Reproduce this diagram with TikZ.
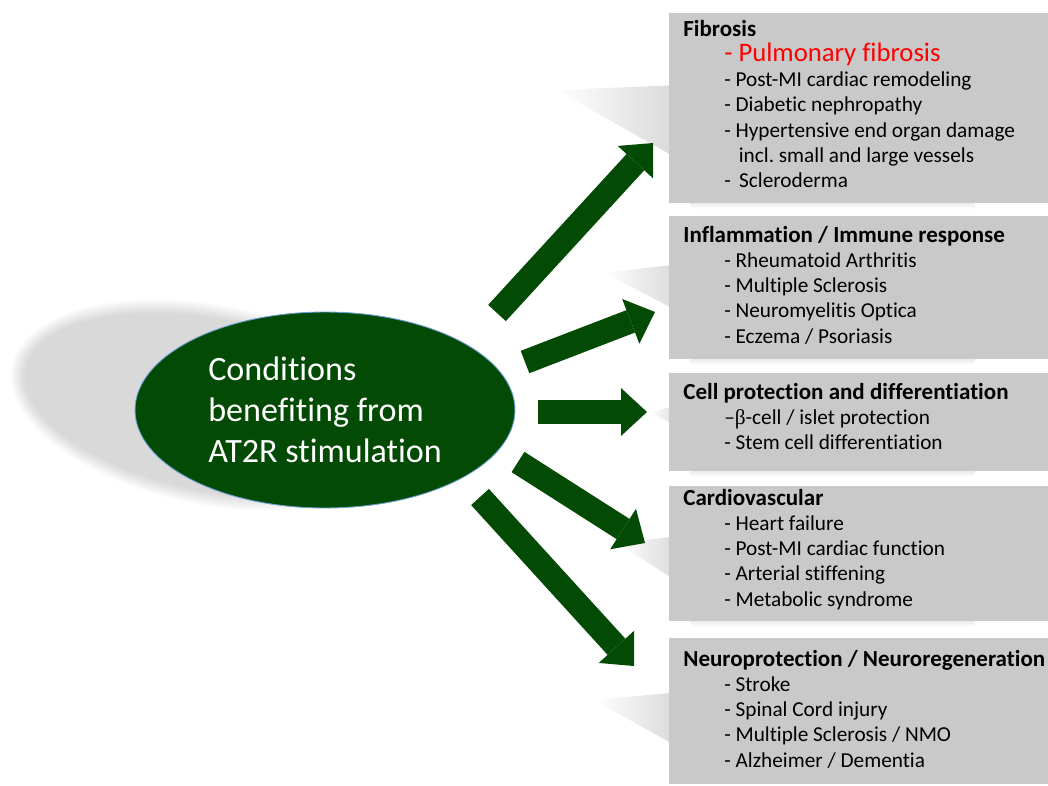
\documentclass[tikz,border=0pt]{standalone}
\usepackage{fontspec}
\setmainfont{Carlito}[Ligatures=NoCommon]
\newfontfamily\grk{Liberation Serif}
\usetikzlibrary{arrows.meta,calc,fadings,shapes.geometric,positioning}
\definecolor{leafgreen}{RGB}{3,75,5}
\definecolor{panelgray}{RGB}{201,201,201}
\definecolor{rimblue}{RGB}{110,160,215}
\tikzfading[name=fadeleft, left color=transparent!100, right color=transparent!15]
\tikzfading[name=fadedown, top color=transparent!40, bottom color=transparent!100]
\newcommand{\itm}[1]{\hspace*{23.3pt}- #1}
\newcommand{\ttl}[1]{{\fontsize{13.1}{14.3}\selectfont\bfseries #1}}

\begin{document}
\begin{tikzpicture}[x=0.02cm, y=-0.02cm,
    panel/.style={fill=panelgray, inner sep=0pt, minimum width=7.58cm, anchor=north west},
    paneltext/.style={anchor=north west, inner sep=0pt, align=left, font=\fontsize{12.1}{14.3}\selectfont},
    hub/.style={ellipse, fill=leafgreen, draw=rimblue, line width=0.5pt, minimum width=7.6cm, minimum height=3.92cm,
      inner sep=0pt, text=white, align=left, font=\fontsize{19.4}{23.3}\selectfont},
    pointer/.style={draw=leafgreen, line width=0.48cm, -{Triangle[length=0.52cm, width=0.96cm, line width=0pt]}},
    castshadow/.style={fill=black!18, path fading=fadeleft},
    dropshadow/.style={fill=black!12, path fading=fadedown}]
    \useasboundingbox (0,0) rectangle (1048,785);

    % --- SHADOWS ---
    \foreach \k in {0,...,7}
      \fill[black, opacity=0.021, rotate around={-11:(212,405)}] (212,405) ellipse ({204-2*\k} and {100-2*\k});
    \fill[castshadow] (556,90) -- (680,85) -- (680,160) -- cycle;
    \fill[castshadow] (604,273) -- (680,264) -- (680,312) -- cycle;
    \fill[castshadow] (650,413) -- (680,404) -- (680,427) -- cycle;
    \fill[castshadow] (617,543) -- (680,536) -- (680,583) -- cycle;
    \fill[castshadow] (594,700) -- (680,692) -- (680,748) -- cycle;
    \fill[dropshadow] (690,203) rectangle (975,209);
    \fill[dropshadow] (690,359) rectangle (975,365);
    \fill[dropshadow] (690,471) rectangle (975,477);
    \fill[dropshadow] (690,621) rectangle (975,627);

    % --- PANELS (RIGHT) ---
    \node[panel, minimum height=3.8cm] (fib) at (669,13) {};
    \node[panel, minimum height=2.86cm] (inf) at (669,216) {};
    \node[panel, minimum height=1.96cm] (cel) at (669,373) {};
    \node[panel, minimum height=2.7cm] (car) at (669,486) {};
    \node[panel, minimum height=2.92cm] (neu) at (669,638) {};

    \node[paneltext] (fibtxt) at (683,20) {\ttl{Fibrosis}\\
      {\fontsize{15.2}{14.3}\selectfont\color{red}\itm{Pulmonary fibrosis}}\\
      \itm{Post-MI cardiac remodeling}\\
      \itm{Diabetic nephropathy}\\
      \itm{Hypertensive end organ damage}\\
      \hspace*{31.6pt}incl.\ small and large vessels\\
      \itm{\,Scleroderma}};
    \node[paneltext] (inftxt) at (683,226) {\ttl{Inflammation / Immune response}\\
      \itm{Rheumatoid Arthritis}\\
      \itm{Multiple Sclerosis}\\
      \itm{Neuromyelitis Optica}\\
      \itm{Eczema / Psoriasis}};
    \node[paneltext] (celtxt) at (683,383) {\ttl{Cell protection and differentiation}\\
      \hspace*{23.3pt}\textendash{\grk β}-cell / islet protection\\
      \itm{Stem cell differentiation}};
    \node[paneltext] (cartxt) at (683,489) {\ttl{Cardiovascular}\\
      \itm{Heart failure}\\
      \itm{Post-MI cardiac function}\\
      \itm{Arterial stiffening}\\
      \itm{Metabolic syndrome}};
    \node[paneltext] (neutxt) at (683,650) {\ttl{Neuroprotection / Neuroregeneration}\\
      \itm{Stroke}\\
      \itm{Spinal Cord injury}\\
      \itm{Multiple Sclerosis / NMO}\\
      \itm{Alzheimer / Dementia}};

    % --- CENTRE (LEFT) ---
    \node[hub] (hub) at (325,410) {Conditions\\benefiting from\\AT2R stimulation};

    % --- ARROWS ---
    \coordinate (t1) at (497,313); \coordinate (h1) at (653,143);
    \coordinate (t2) at (525,362); \coordinate (h2) at (655,312);
    \coordinate (t3) at (538,412); \coordinate (h3) at (647,412);
    \coordinate (t4) at (518,462); \coordinate (h4) at (645,543);
    \coordinate (t5) at (480,497); \coordinate (h5) at (634,666);
    \draw[pointer] (t1) -- (h1);
    \draw[pointer] (t2) -- (h2);
    \draw[pointer] (t3) -- (h3);
    \draw[pointer] (t4) -- (h4);
    \draw[pointer] (t5) -- (h5);
\end{tikzpicture}
\end{document}
